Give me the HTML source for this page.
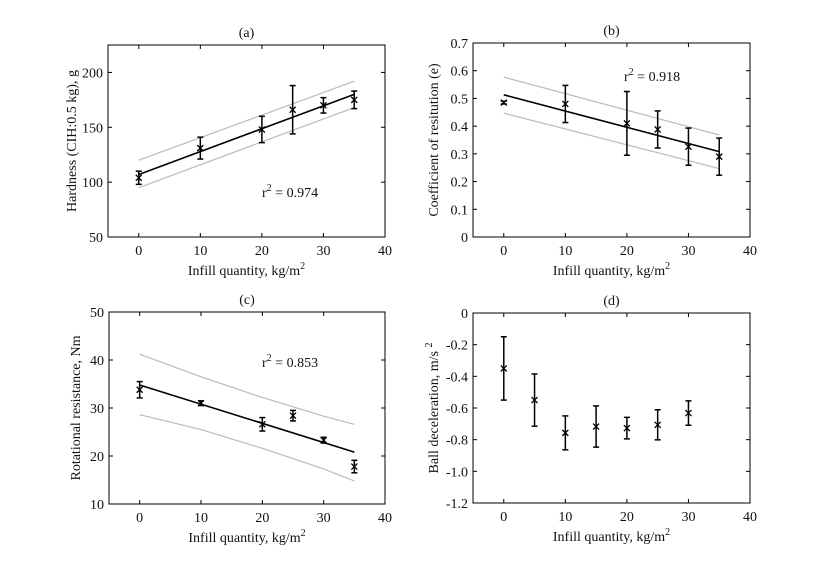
<!DOCTYPE html>
<html><head><meta charset="utf-8"><style>
html,body{margin:0;padding:0;background:#fff;}
svg text{font-family:"Liberation Serif",serif;font-size:14px;fill:#111;}
</style></head><body>
<svg id="s" width="832" height="569" xmlns="http://www.w3.org/2000/svg"></svg>
<script>
const s=document.getElementById('s');let h='';
function P(o){
 const {L,R,T,B,y0,y1,yt,fmt}=o;
 const X=x=>L+(x+5)/45*(R-L), Y=y=>B-(y-y0)/(y1-y0)*(B-T);
 h+=`<rect x="${L}" y="${T}" width="${R-L}" height="${B-T}" fill="none" stroke="#000" stroke-width="1"/>`;
 for(let x=0;x<=40;x+=10){const px=X(x);h+=`<line x1="${px}" y1="${B}" x2="${px}" y2="${B-4}" stroke="#000"/><line x1="${px}" y1="${T}" x2="${px}" y2="${T+4}" stroke="#000"/><text x="${px}" y="${B+18}" text-anchor="middle">${x}</text>`;}
 yt.forEach(v=>{const py=Y(v);h+=`<line x1="${L}" y1="${py}" x2="${L+4}" y2="${py}" stroke="#000"/><line x1="${R}" y1="${py}" x2="${R-4}" y2="${py}" stroke="#000"/><text x="${L-5}" y="${py+5}" text-anchor="end">${fmt(v)}</text>`;});
 if(o.bands){o.bands.forEach(b=>{h+=`<polyline points="${b.map(p=>X(p[0])+','+Y(p[1])).join(' ')}" fill="none" stroke="#bbb" stroke-width="1.2"/>`;});}
 if(o.fit){h+=`<line x1="${X(0)}" y1="${Y(o.fit[0])}" x2="${X(35)}" y2="${Y(o.fit[1])}" stroke="#000" stroke-width="1.6"/>`;}
 o.pts.forEach(([x,y,e])=>{const px=X(x),py=Y(y),a=Y(y+e),b=Y(y-e);
  h+=`<line x1="${px}" y1="${a}" x2="${px}" y2="${b}" stroke="#000" stroke-width="1.5"/><line x1="${px-3}" y1="${a}" x2="${px+3}" y2="${a}" stroke="#000" stroke-width="1.5"/><line x1="${px-3}" y1="${b}" x2="${px+3}" y2="${b}" stroke="#000" stroke-width="1.5"/>`;
  h+=`<path d="M${px-3} ${py-3}L${px+3} ${py+3}M${px+3} ${py-3}L${px-3} ${py+3}" stroke="#000" stroke-width="1.3"/>`;});
 h+=`<text x="${(L+R)/2}" y="${T-8}" text-anchor="middle">${o.title}</text>`;
 h+=`<text x="${(L+R)/2}" y="${B+38}" text-anchor="middle">Infill quantity, kg/m<tspan dy="-6" font-size="10">2</tspan></text>`;
 h+=`<text transform="translate(${o.yl},${(T+B)/2}) rotate(-90)" text-anchor="middle">${o.ylab}</text>`;
 if(o.r2)h+=`<text x="${o.r2[0]}" y="${o.r2[1]}">r<tspan dy="-6" font-size="10">2</tspan><tspan dy="6"> = ${o.r2[2]}</tspan></text>`;
}
P({L:108,R:385,T:45,B:237,y0:50,y1:225,yt:[50,100,150,200],fmt:v=>v,title:'(a)',ylab:'Hardness (CIH:0.5 kg), g',yl:76,
 bands:[[[0,120],[35,192]],[[0,95],[35,168]]],fit:[107,180],r2:[262,197,'0.974'],
 pts:[[0,104,6],[10,131,10],[20,148,12],[25,166,22],[30,170,7],[35,175,8]]});
P({L:473,R:750,T:43,B:237,y0:0,y1:0.7,yt:[0,.1,.2,.3,.4,.5,.6,.7],fmt:v=>v==0?'0':v.toFixed(1),title:'(b)',ylab:'Coefficient of resitution (e)',yl:438,
 bands:[[[0,.577],[35,.368]],[[0,.447],[35,.247]]],fit:[.513,.308],r2:[624,81,'0.918'],
 pts:[[0,.485,.005],[10,.48,.067],[20,.41,.115],[25,.388,.067],[30,.326,.067],[35,.29,.067]]});
P({L:109,R:385,T:312,B:504,y0:10,y1:50,yt:[10,20,30,40,50],fmt:v=>v,title:'(c)',ylab:'Rotational resistance, Nm',yl:80,
 bands:[[[0,41.2],[10,36.5],[20,32.2],[30,28.3],[35,26.6]],[[0,28.6],[10,25.5],[20,21.6],[30,17.3],[35,14.8]]],fit:[34.8,20.8],r2:[262,367,'0.853'],
 pts:[[0,33.8,1.7],[10,31,.5],[20,26.6,1.4],[25,28.4,1.1],[30,23.3,.6],[35,17.8,1.3]]});
P({L:473,R:750,T:313,B:503,y0:-1.2,y1:0,yt:[0,-.2,-.4,-.6,-.8,-1,-1.2],fmt:v=>v==0?'0':v.toFixed(1),title:'(d)',ylab:'Ball deceleration, m/s <tspan dy="-6" font-size="10">2</tspan>',yl:438,
 pts:[[0,-.35,.2],[5,-.55,.165],[10,-.757,.107],[15,-.717,.13],[20,-.727,.068],[25,-.706,.095],[30,-.632,.077]]});
s.innerHTML=h;
</script>
</body></html>
